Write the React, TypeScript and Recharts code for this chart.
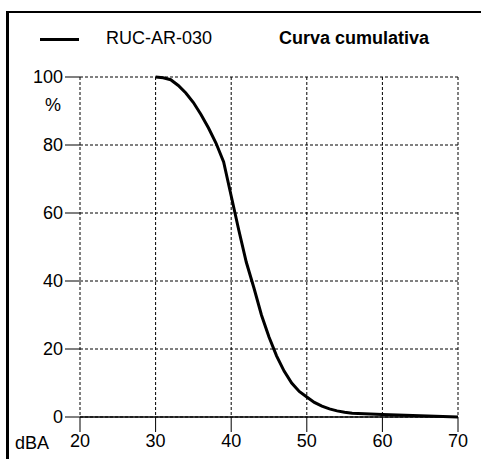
import React from 'react';
import { LineChart, Line, XAxis, YAxis, CartesianGrid } from 'recharts';

// cumulative level curve (dBA -> % of time exceeded)
const levels = [30, 31, 32, 33, 34, 35, 36, 37, 38, 39, 40, 41, 42, 43, 44, 45, 46, 47, 48, 49, 50, 51, 52, 53, 54, 55, 56, 60, 65, 70];
const percent = [100, 99.8, 99.2, 97.5, 95.3, 92.5, 89, 85, 80.5, 75, 65, 55, 45.5, 38, 30, 23.5, 18, 13.5, 10, 7.5, 5.9, 4.3, 3.2, 2.4, 1.8, 1.4, 1.1, 0.7, 0.4, 0];

const xTicks = [20, 30, 40, 50, 60, 70];
const yTicks = [0, 20, 40, 60, 80, 100];

const seriesName = 'RUC-AR-030';
const title = 'Curva cumulativa';

const data = levels.map((x, i) => ({ x, y: percent[i] }));

const font = 'Arial, "Liberation Sans", sans-serif';

export default function App() {
  return (
    <div style={{ position: 'fixed', left: 0, top: 0, width: 481, height: 459, overflow: 'hidden', background: '#fff' }}>
      {/* frame, only top and left edges fall inside the picture */}
      <div style={{ position: 'absolute', left: 6, top: 11, width: 490, height: 470, borderTop: '2px solid #000', borderLeft: '3px solid #000' }} />
      {/* legend */}
      <div style={{ position: 'absolute', left: 40, top: 38, width: 39, height: 3, background: '#000' }} />
      <div style={{ position: 'absolute', left: 106, top: 29, fontFamily: font, fontSize: 18, lineHeight: '18px' }}>
        {seriesName}
      </div>
      <div style={{ position: 'absolute', left: 279, top: 29, fontFamily: font, fontSize: 18, fontWeight: 'bold', lineHeight: '18px' }}>
        {title}
      </div>
      <div style={{ position: 'absolute', left: 45, top: 96, fontFamily: font, fontSize: 18, lineHeight: '18px' }}>%</div>
      <div style={{ position: 'absolute', left: 15, top: 434, fontFamily: font, fontSize: 18, lineHeight: '18px' }}>dBA</div>
      <div style={{ position: 'absolute', left: 0, top: 0 }}>
        <LineChart width={481} height={459} data={data} margin={{ top: 77, right: 23, bottom: 0, left: 0 }}>
          <CartesianGrid stroke="#000" strokeDasharray="3 2" />
          <XAxis
            dataKey="x"
            type="number"
            domain={[20, 70]}
            ticks={xTicks}
            height={42}
            tickSize={15}
            tickMargin={2}
            stroke="#000"
            axisLine={{ stroke: '#000', strokeWidth: 1.5 }}
            tick={{ fill: '#000', fontSize: 18, fontFamily: font }}
          />
          <YAxis
            type="number"
            domain={[0, 100]}
            ticks={yTicks}
            width={80}
            tickSize={15}
            tickMargin={2}
            axisLine={false}
            tickLine={{ stroke: '#000' }}
            tick={{ fill: '#000', fontSize: 18, fontFamily: font }}
          />
          <Line type="linear" dataKey="y" name={seriesName} stroke="#000" strokeWidth={3} dot={false} isAnimationActive={false} />
        </LineChart>
      </div>
    </div>
  );
}
